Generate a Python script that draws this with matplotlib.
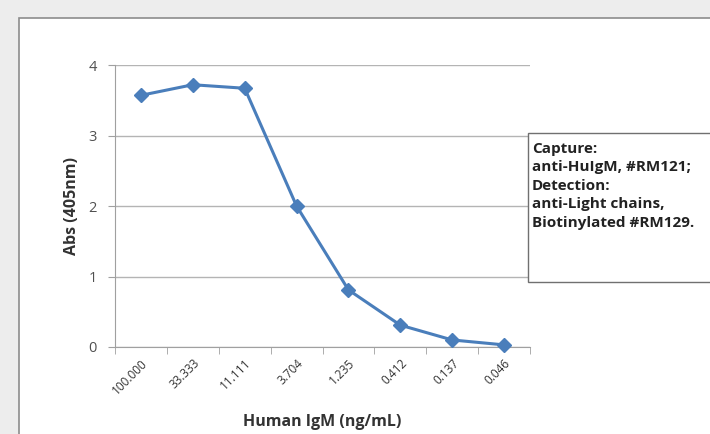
import matplotlib.pyplot as plt
from matplotlib.patches import Rectangle

concentrations = ["100.000", "33.333", "11.111", "3.704", "1.235", "0.412", "0.137", "0.046"]
absorbance = [3.57, 3.72, 3.67, 2.00, 0.81, 0.31, 0.10, 0.03]
y_ticks = [0, 1, 2, 3, 4]
note_lines = ["Capture:", "anti-HuIgM, #RM121;", "Detection:", "anti-Light chains,", "Biotinylated #RM129."]

plt.rcParams['font.family'] = ['Open Sans', 'DejaVu Sans']

W, H = 710, 434
fig = plt.figure(figsize=(W / 100, H / 100), dpi=100, facecolor="#ededed")

# white chart panel, runs off the right and bottom edges
fig.patches.append(Rectangle((19 / W, -0.1), 1.0, 1 - 18 / H + 0.1, transform=fig.transFigure,
                             facecolor="white", edgecolor="#8c8c8c", linewidth=1.2, zorder=-1))

ax = fig.add_axes([115 / W, 87 / H, 415 / W, 282 / H], zorder=1)
ax.set_facecolor("white")
x = range(len(concentrations))
ax.plot(x, absorbance, color="#4a7ebb", linewidth=2.2, marker="D", markersize=7.5,
        markerfacecolor="#4a7ebb", markeredgecolor="#4a7ebb", zorder=3, clip_on=False)

ax.set_xlim(-0.5, len(concentrations) - 0.5)
ax.set_ylim(0, 4)
ax.set_yticks(y_ticks)
ax.set_yticklabels([str(v) for v in y_ticks], fontsize=10.5, color="#505050")
ax.set_xticks(x)
ax.set_xticklabels(concentrations, rotation=45, ha="right", rotation_mode="anchor",
                   fontsize=8.5, color="#333333")
ax.set_xticks([i - 0.5 for i in range(len(concentrations) + 1)], minor=True)
ax.tick_params(axis="x", which="major", length=0, pad=7)
ax.tick_params(axis="x", which="minor", length=5, color="#a0a0a0")
ax.tick_params(axis="y", length=5, color="#a0a0a0", pad=8)
ax.grid(axis="y", color="#b4b4b4", linewidth=1)
ax.set_axisbelow(True)
for s in ["top", "right"]:
    ax.spines[s].set_visible(False)
for s in ["left", "bottom"]:
    ax.spines[s].set_color("#a0a0a0")

fig.text(322 / W, 1 - 422 / H, "Human IgM (ng/mL)", ha="center", va="center",
         fontsize=11.5, fontweight="bold", color="#333333")
fig.text(72 / W, 1 - 206 / H, "Abs (405nm)", ha="center", va="center", rotation=90,
         fontsize=11.5, fontweight="bold", color="#333333")

# annotation box at the right
fig.patches.append(Rectangle((528 / W, 1 - 282 / H), 0.5, 149 / H, transform=fig.transFigure,
                             facecolor="white", edgecolor="#707070", linewidth=1.0, zorder=5))
for i, line in enumerate(note_lines):
    fig.text(532 / W, 1 - (149 + i * 18.5) / H, line, ha="left", va="center",
             fontsize=11, fontweight="bold", color="#222222", zorder=6)

fig.savefig("out.png", dpi=100, facecolor=fig.get_facecolor())
